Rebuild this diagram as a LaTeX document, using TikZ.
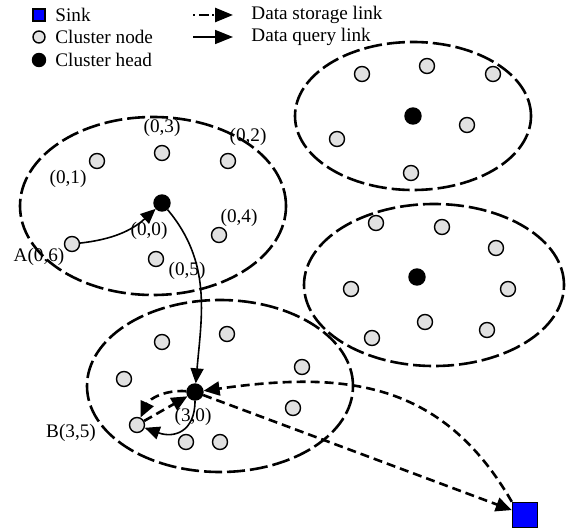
\documentclass[tikz,border=0pt]{standalone}
\usepackage{fontspec}
\setmainfont{Liberation Serif}
\usetikzlibrary{arrows.meta}
\definecolor{cgray}{RGB}{225,225,225}
\begin{document}
\begin{tikzpicture}[x=0.5pt,y=-0.5pt,
  font=\fontsize{9.6pt}{11pt}\selectfont,
  cnode/.style={circle,draw,fill=cgray,minimum size=7.5pt,inner sep=0pt,line width=0.7pt},
  chead/.style={circle,draw,fill=black,minimum size=8pt,inner sep=0pt,line width=0.7pt},
  sinknode/.style={rectangle,draw,fill=blue,minimum size=12.5pt,inner sep=0pt,line width=0.7pt},
  cluster/.style={line width=1.3pt,dash pattern=on 9pt off 2.5pt},
  storage/.style={line width=1.3pt,dash pattern=on 4.5pt off 2.5pt,-{Triangle[length=8pt,width=7pt]}},
  query/.style={line width=0.8pt,-{Triangle[length=7.5pt,width=6.5pt]}},
  lbl/.style={inner sep=0pt}
]
\useasboundingbox (0,0) rectangle (566,529);

% clusters
\draw[cluster] (153,206) ellipse [x radius=66.5pt, y radius=44.5pt];
\draw[cluster] (413,116) ellipse [x radius=59pt, y radius=37pt];
\draw[cluster] (434,285) ellipse [x radius=65pt, y radius=40.5pt];
\draw[cluster] (220,386) ellipse [x radius=66.5pt, y radius=43pt];

% cluster 0
\node[cnode] (n01) at (97,161) {};
\node[cnode] (n03) at (162,153) {};
\node[cnode] (n02) at (228,161) {};
\node[chead] (h0) at (162,203) {};
\node[cnode] (n04) at (219,235) {};
\node[cnode] (nA) at (72,244) {};
\node[cnode] (n05) at (156,259) {};

% cluster top right
\node[cnode] (t1) at (362,74) {};
\node[cnode] (t2) at (427,66) {};
\node[cnode] (t3) at (493,74) {};
\node[chead] (h1) at (413,116) {};
\node[cnode] (t4) at (467,125) {};
\node[cnode] (t5) at (337,139) {};
\node[cnode] (t6) at (411,173) {};

% cluster middle right
\node[cnode] (m1) at (376,223) {};
\node[cnode] (m2) at (442,227) {};
\node[cnode] (m3) at (496,248) {};
\node[chead] (h2) at (417,277) {};
\node[cnode] (m4) at (351,289) {};
\node[cnode] (m5) at (508,289) {};
\node[cnode] (m6) at (425,322) {};
\node[cnode] (m7) at (487,330) {};
\node[cnode] (m8) at (372,338) {};

% cluster 3
\node[cnode] (b1) at (162,342) {};
\node[cnode] (b2) at (227,334) {};
\node[cnode] (b3) at (124,379) {};
\node[chead] (h3) at (195,392) {};
\node[cnode] (b4) at (302,367) {};
\node[cnode] (b5) at (293,408) {};
\node[cnode] (nB) at (137,425) {};
\node[cnode] (b6) at (186,442) {};
\node[cnode] (b7) at (220,442) {};

% sink
\node[sinknode] (sink) at (525,515) {};

% labels
\node[lbl] (l03) at (162,128) {(0,3)};
\node[lbl] (l02) at (248,137) {(0,2)};
\node[lbl] (l01) at (68,179) {(0,1)};
\node[lbl] (l00) at (149,231) {(0,0)};
\node[lbl] (l04) at (239,218) {(0,4)};
\node[lbl] (lA) at (39,257) {A(0,6)};
\node[lbl] (l05) at (187,271) {(0,5)};
\node[lbl] (l30) at (193,417) {(3,0)};
\node[lbl] (lB) at (71,433) {B(3,5)};

% links
\draw[query] (nA) to[bend right=18] (h0);
\draw[query] (h0) to[out=-50,in=85] (h3);
\draw[storage] (h3) to[out=175,in=65] (nB);
\draw[storage] (nB) -- (h3);
\draw[query] (h3) to[out=-90,in=-20,looseness=1.4] (nB);
\draw[storage] (sink.north west) to[out=120,in=8,looseness=1.1] (h3);
\draw[storage] (h3) -- (sink);

% legend
\node[sinknode,minimum size=6pt] (lgs) at (39,15) {};
\node[cnode,minimum size=6pt] (lgc) at (39,37) {};
\node[chead,minimum size=6.5pt] (lgh) at (39,60) {};
\node[lbl,anchor=west] (lgst) at (55,15) {Sink};
\node[lbl,anchor=west] (lgct) at (55,37) {Cluster node};
\node[lbl,anchor=west] (lght) at (55,60) {Cluster head};
\coordinate (ls1) at (193,15);
\coordinate (ls2) at (233,15);
\coordinate (lq1) at (193,37);
\coordinate (lq2) at (233,37);
\draw[line width=1.3pt,dash pattern=on 1pt off 2pt on 5pt off 1.5pt,-{Triangle[length=9pt,width=7pt]}] (ls1) -- (ls2);
\draw[line width=0.8pt,-{Triangle[length=9pt,width=7pt]}] (lq1) -- (lq2);
\node[lbl,anchor=west] (lgdt) at (251,15) {Data storage link};
\node[lbl,anchor=west] (lgqt) at (251,37) {Data query link};
\end{tikzpicture}
\end{document}
